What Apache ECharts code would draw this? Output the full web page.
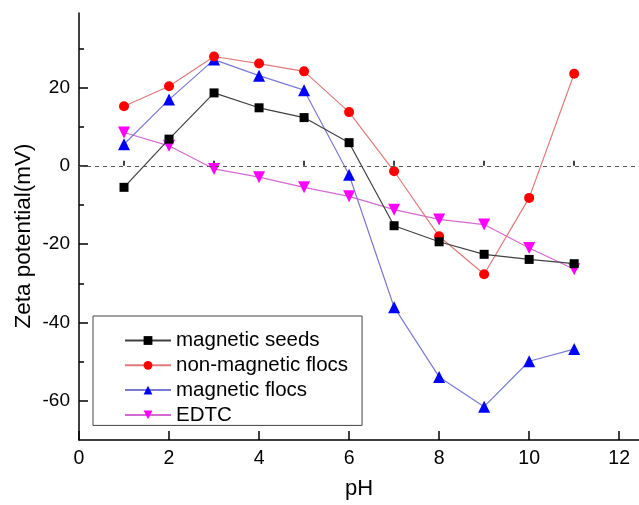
<!DOCTYPE html>
<html>
<head>
<meta charset="utf-8">
<script src="https://cdn.jsdelivr.net/npm/echarts@6/dist/echarts.min.js"></script>
<style>
  html, body { margin: 0; padding: 0; background: #fff; }
  #chart { width: 639px; height: 505px; }
</style>
</head>
<body>
<div id="chart"></div>
<script>
// pH values of the measurements
const phValues = [1, 2, 3, 4, 5, 6, 7, 8, 9, 10, 11];

// Zeta potential (mV) per sample type
const magneticSeeds     = [-5.5, 6.8, 18.6, 14.8, 12.3, 5.9, -15.3, -19.4, -22.6, -23.9, -25.0];
const nonMagneticFlocs  = [15.2, 20.3, 27.9, 26.1, 24.1, 13.7, -1.4, -18.0, -27.7, -8.2, 23.5];
const magneticFlocs     = [5.5, 16.9, 27.1, 23.0, 19.3, -2.3, -36.1, -53.9, -61.5, -49.9, -46.8];
const edtc              = [8.5, 5.1, -0.8, -2.9, -5.5, -7.8, -11.2, -13.7, -15.0, -21.0, -26.4];

// Tick positions
const xLabelTicks = [0, 2, 4, 6, 8, 10, 12];
const xMinorTicks = [1, 3, 5, 7, 9, 11];
const yLabelTicks = [-60, -40, -20, 0, 20];
const yMinorTicks = [-50, -30, -10, 10, 30];

const FONT = '"Liberation Sans", Arial, sans-serif';

function pairs(ys) {
  return phValues.map((x, i) => [x, ys[i]]);
}

const chart = echarts.init(document.getElementById('chart'), null, { renderer: 'canvas' });

const xRange = { min: 0, max: 12.44 };
const yRange = { min: -70, max: 39 };

const option = {
  backgroundColor: '#fff',
  animation: false,
  grid: { left: 79, right: 0, top: 13, bottom: 63, containLabel: false },
  xAxis: [
    {
      type: 'value', ...xRange,
      name: 'pH', nameLocation: 'middle', nameGap: 38,
      nameTextStyle: { fontFamily: FONT, fontSize: 22, color: '#000' },
      axisLine: { show: true, onZero: false, lineStyle: { color: '#000', width: 1.5 } },
      axisTick: { show: true, inside: true, length: 9, customValues: xLabelTicks, lineStyle: { color: '#000', width: 1.5 } },
      axisLabel: { customValues: xLabelTicks, margin: 9, fontFamily: FONT, fontSize: 19.5, color: '#000' },
      splitLine: { show: false }
    },
    {
      type: 'value', ...xRange, position: 'bottom',
      axisLine: { show: false },
      axisTick: { show: true, inside: true, length: 5, customValues: xMinorTicks, lineStyle: { color: '#000', width: 1.5 } },
      axisLabel: { show: false },
      splitLine: { show: false }
    }
  ],
  yAxis: [
    {
      type: 'value', ...yRange,
      axisLine: { show: true, onZero: false, lineStyle: { color: '#000', width: 1.5 } },
      axisTick: { show: true, inside: true, length: 9, customValues: yLabelTicks, lineStyle: { color: '#000', width: 1.5 } },
      axisLabel: { customValues: yLabelTicks, margin: 9, fontFamily: FONT, fontSize: 19, color: '#000' },
      splitLine: { show: false }
    },
    {
      type: 'value', ...yRange, position: 'left',
      axisLine: { show: false },
      axisTick: { show: true, inside: true, length: 5, customValues: yMinorTicks, lineStyle: { color: '#000', width: 1.5 } },
      axisLabel: { show: false },
      splitLine: { show: false }
    }
  ],
  legend: {
    orient: 'vertical',
    left: 93, top: 316,
    padding: [14, 14, 0, 31],
    itemWidth: 46, itemHeight: 11, itemGap: 3.8,
    borderColor: '#444', borderWidth: 1,
    textStyle: { fontFamily: FONT, fontSize: 20.5, color: '#000' },
    data: ['magnetic seeds', 'non-magnetic flocs', 'magnetic flocs', 'EDTC']
  },
  graphic: [
    {
      type: 'text',
      x: 24, y: 236,
      rotation: Math.PI / 2,
      style: {
        text: 'Zeta potential(mV)',
        fontFamily: FONT, fontSize: 22.5, fill: '#000',
        align: 'center', verticalAlign: 'middle'
      }
    }
  ],
  series: [
    {
      name: 'magnetic seeds', type: 'line',
      data: pairs(magneticSeeds),
      symbol: 'rect', symbolSize: 9,
      itemStyle: { color: '#000' },
      lineStyle: { color: '#404040', width: 1.2 },
      markLine: {
        silent: true, symbol: 'none', label: { show: false },
        lineStyle: { color: '#555', type: [4, 4], width: 1 },
        data: [{ yAxis: 0 }]
      },
      z: 4
    },
    {
      name: 'non-magnetic flocs', type: 'line',
      data: pairs(nonMagneticFlocs),
      symbol: 'circle', symbolSize: 10,
      itemStyle: { color: '#ff0000' },
      lineStyle: { color: '#e07a7a', width: 1.2 },
      z: 3
    },
    {
      name: 'magnetic flocs', type: 'line',
      data: pairs(magneticFlocs),
      symbol: 'triangle', symbolSize: 12,
      itemStyle: { color: '#0000ff' },
      lineStyle: { color: '#7a7ad6', width: 1.2 },
      z: 2
    },
    {
      name: 'EDTC', type: 'line',
      data: pairs(edtc),
      symbol: 'triangle', symbolSize: 12, symbolRotate: 180,
      itemStyle: { color: '#ff00ff' },
      lineStyle: { color: '#d46ad4', width: 1.2 },
      z: 1
    }
  ]
};

chart.setOption(option);
</script>
</body>
</html>
